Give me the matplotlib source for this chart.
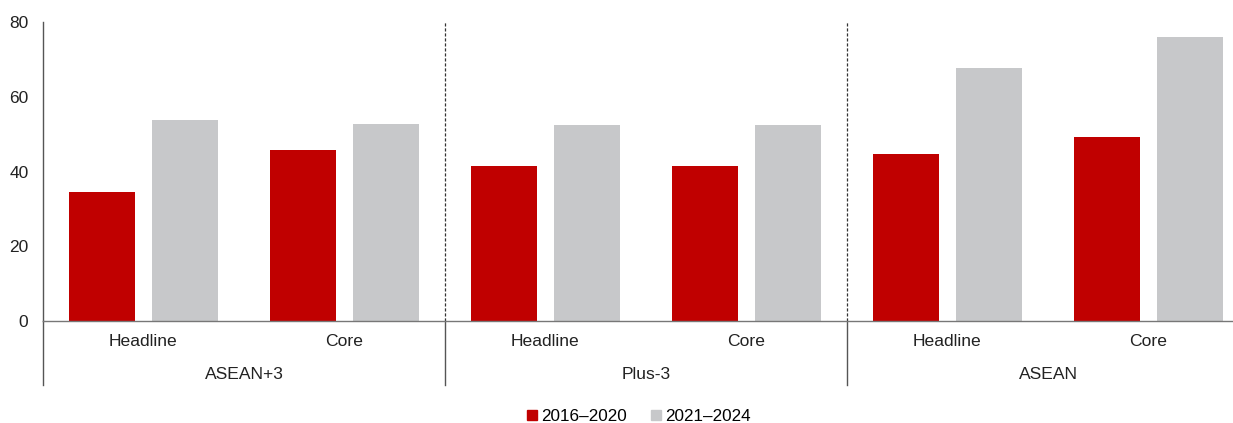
import matplotlib
matplotlib.use("Agg")
import matplotlib.pyplot as plt
from matplotlib.lines import Line2D
import numpy as np

plt.rcParams['font.family'] = ['Liberation Sans', 'DejaVu Sans']

groups = ["ASEAN+3", "Plus-3", "ASEAN"]
measures = ["Headline", "Core"]
series_names = ["2016\u20132020", "2021\u20132024"]
vals_2016_2020 = [34.5, 45.8, 41.5, 41.5, 44.7, 49.1]
vals_2021_2024 = [53.8, 52.6, 52.4, 52.4, 67.7, 75.9]
colors = ["#C00000", "#C7C8CA"]

W, H = 1233, 423
fig = plt.figure(figsize=(W / 100, H / 100), dpi=100)
ax_left, ax_right = 43 / W, 1249 / W
ax_top, ax_bot = 1 - 22 / H, 1 - 321 / H
ax = fig.add_axes([ax_left, ax_bot, ax_right - ax_left, ax_top - ax_bot])

n = len(vals_2016_2020)
x = np.arange(n)
bw = 0.328
off = 0.206
ax.bar(x - off, vals_2016_2020, width=bw, color=colors[0], linewidth=0)
ax.bar(x + off, vals_2021_2024, width=bw, color=colors[1], linewidth=0)

ax.set_xlim(-0.5, n - 0.5)
ax.set_ylim(0, 80)
ax.set_yticks([0, 20, 40, 60, 80])
ax.tick_params(axis='y', length=0, labelsize=12.5, pad=10.5, colors='#222222')
ax.tick_params(axis='x', length=0, labelsize=12.6, pad=9.5, colors='#222222')
ax.set_xticks(x)
ax.set_xticklabels(measures * len(groups))

for s in ['top', 'right']:
    ax.spines[s].set_visible(False)
ax.spines['left'].set_color('#555555')
ax.spines['bottom'].set_color('#777777')
ax.spines['left'].set_linewidth(1.0)
ax.spines['bottom'].set_linewidth(1.0)

trans = ax.get_xaxis_transform()
ext = -(385 - 321) / (321 - 22)
ax.plot([-0.5, -0.5], [0, ext], transform=trans, color='#555555', lw=1.0, clip_on=False)
for b in [1.5, 3.5]:
    ax.plot([b, b], [0, 1], transform=trans, color='#333333', lw=0.9, ls=(0, (2.5, 1.5)), clip_on=False)
    ax.plot([b, b], [0, ext], transform=trans, color='#555555', lw=1.0, clip_on=False)

label_y = -(374 - 321) / (321 - 22)
for i, g in enumerate(groups):
    ax.text(2 * i + 0.5, label_y, g, transform=trans, ha='center', va='center',
            fontsize=12.6, color='#222222')

handles = [Line2D([], [], marker='s', ls='none', markersize=7, color=c) for c in colors]
fig.legend(handles, series_names, loc='center', bbox_to_anchor=(637 / W, 1 - 416 / H),
           ncol=2, frameon=False, fontsize=12.3, handletextpad=0.05, columnspacing=1.2,
           handlelength=1.0)

fig.savefig("out.png", dpi=100)
